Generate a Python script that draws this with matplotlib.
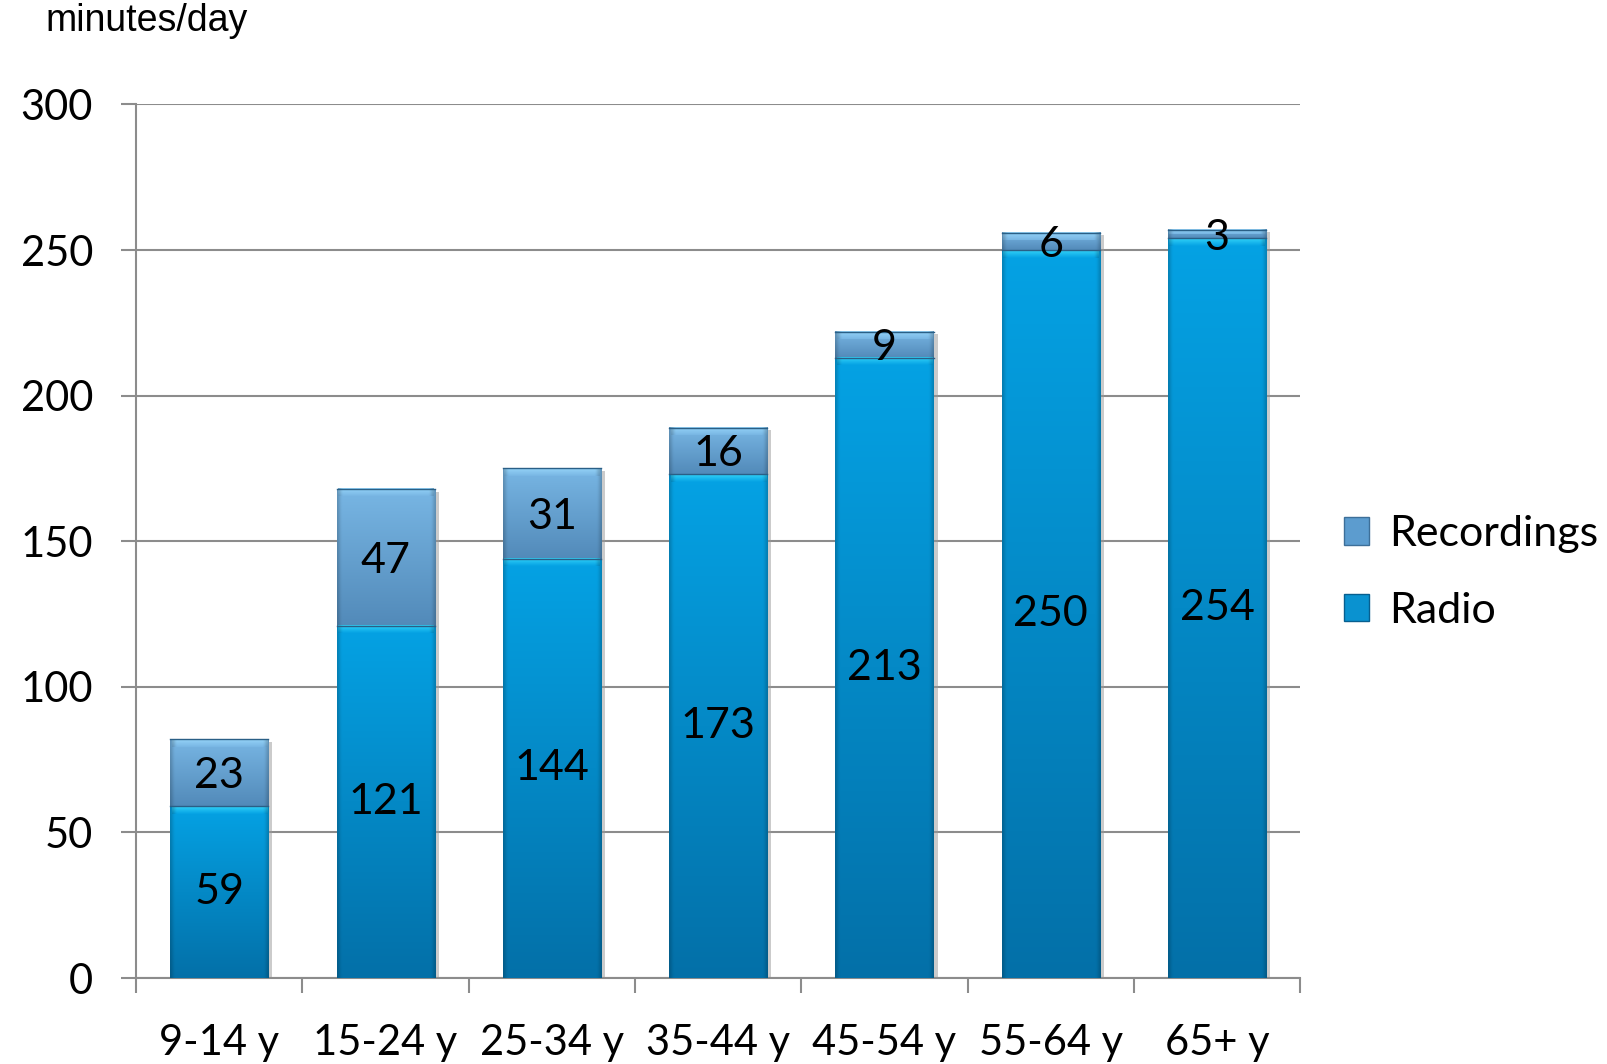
import numpy as np
import matplotlib
matplotlib.use("Agg")
import matplotlib.pyplot as plt
import matplotlib.patheffects as pe
from matplotlib.patches import Patch

categories = ["9-14 y", "15-24 y", "25-34 y", "35-44 y", "45-54 y", "55-64 y", "65+ y"]
radio = [59, 121, 144, 173, 213, 250, 254]
recordings = [23, 47, 31, 16, 9, 6, 3]
yticks = [0, 50, 100, 150, 200, 250, 300]

num_font = ["Lato", "DejaVu Sans"]

fig = plt.figure(figsize=(16.07, 10.64), dpi=100)
ax = fig.add_axes([0.0847, 0.0808, 0.7244, 0.821])

x = np.arange(len(categories))
width = 0.59

shadow = [pe.SimplePatchShadow(offset=(3, -2), shadow_rgbFace="#999999", alpha=0.5), pe.Normal()]
b_radio = ax.bar(x, radio, width, color="#0387c8", edgecolor="none", zorder=2, path_effects=shadow)
b_rec = ax.bar(x, recordings, width, bottom=radio, color="#5a9dd0", edgecolor="none", zorder=2,
               path_effects=shadow)


def shade(top_rgb, bot_rgb, n=200, m=60):
    t = np.linspace(0, 1, n)[:, None, None]
    top = np.array(top_rgb)[None, None, :] / 255
    bot = np.array(bot_rgb)[None, None, :] / 255
    img = top * (1 - t) + bot * t
    img = np.repeat(img, m, axis=1)
    # darker side edges
    s = np.linspace(0, 1, m)
    edge = 1 - 0.18 * (np.clip(1 - s / 0.04, 0, 1) + np.clip((s - 0.96) / 0.04, 0, 1))
    img = img * edge[None, :, None]
    return img


def draw_segment(patch, top_rgb, bot_rgb, bevel_rgb, bevel_units=2.6):
    x0 = patch.get_x()
    w = patch.get_width()
    y0 = patch.get_y()
    h = patch.get_height()
    img = shade(top_rgb, bot_rgb)
    ax.imshow(img, extent=[x0, x0 + w, y0, y0 + h], aspect="auto", origin="upper",
              zorder=3, interpolation="bilinear")
    bh = min(bevel_units, h * 0.5)
    bev = shade(bevel_rgb, top_rgb, n=20)
    ax.imshow(bev, extent=[x0 + w * 0.015, x0 + w * 0.985, y0 + h - bh, y0 + h], aspect="auto",
              origin="upper", zorder=4, interpolation="bilinear")
    ax.plot([x0, x0 + w], [y0 + h, y0 + h], color="#2a5f86", lw=1.0, zorder=5)


for p in b_radio:
    draw_segment(p, (5, 162, 228), (3, 112, 168), (50, 210, 248))
for p in b_rec:
    draw_segment(p, (120, 182, 228), (82, 138, 185), (150, 212, 248))

for i in range(len(categories)):
    ax.text(x[i], radio[i] / 2, str(radio[i]), ha="center", va="center",
            fontsize=31, family=num_font, zorder=6)
    ax.text(x[i], radio[i] + recordings[i] / 2, str(recordings[i]), ha="center", va="center_baseline",
            fontsize=31, family=num_font, zorder=6)

ax.set_xlim(-0.5, len(categories) - 0.5)
ax.set_ylim(0, 300)
ax.set_yticks(yticks)
ax.set_yticklabels([str(v) for v in yticks], fontsize=30, family=num_font)
ax.yaxis.grid(True, color="#8c8c8c", lw=1.5, zorder=0)
ax.set_axisbelow(True)
ax.tick_params(axis="y", length=11, width=1.5, color="#8c8c8c", pad=20)

ax.set_xticks(x)
ax.set_xticklabels(categories, fontsize=30, family=num_font)
ax.set_xticks(np.arange(-0.5, len(categories)), minor=True)
ax.tick_params(axis="x", which="major", length=0, pad=33)
ax.tick_params(axis="x", which="minor", length=11, width=1.5, color="#8c8c8c")

for side in ["top", "right"]:
    ax.spines[side].set_visible(False)
for side in ["left", "bottom"]:
    ax.spines[side].set_color("#8c8c8c")
    ax.spines[side].set_linewidth(1.5)

fig.text(0.028, 0.997, "minutes/day", fontsize=27, family=["Liberation Sans", "DejaVu Sans"],
         ha="left", va="top")

handles = [Patch(facecolor="#5c9ccf", edgecolor="#3d6f99", label="Recordings"),
           Patch(facecolor="#0a92d0", edgecolor="#075f8f", label="Radio")]
fig.legend(handles=handles, loc="center left", bbox_to_anchor=(0.812, 0.462), frameon=False,
           prop={"family": num_font, "size": 31}, handlelength=0.6, handleheight=0.6,
           handletextpad=0.45, labelspacing=0.9)

fig.savefig("out.png", dpi=100)
